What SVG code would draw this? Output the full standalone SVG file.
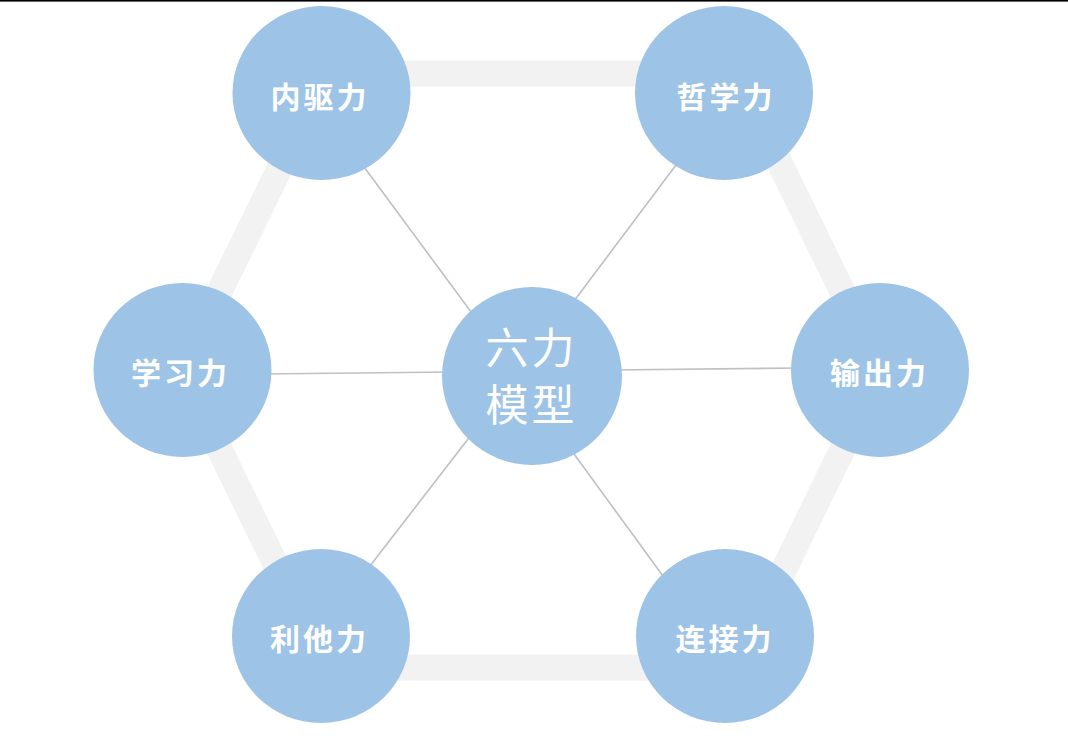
<svg xmlns="http://www.w3.org/2000/svg" width="1068" height="736" viewBox="0 0 1068 736">
  <style>
    .node { fill: #9dc3e6; }
    .lbl { fill: #ffffff; font-family: "Noto Sans CJK SC", "Noto Sans", sans-serif; font-weight: bold; font-size: 30px; letter-spacing: 3px; text-anchor: middle; }
    .clbl { fill: #ffffff; font-family: "Noto Sans CJK SC", "Noto Sans", sans-serif; font-weight: normal; font-size: 43px; letter-spacing: 3px; text-anchor: middle; }
    .spoke { stroke: #c0c0c0; stroke-width: 1.6; fill: none; }
    .ring { stroke: #f2f2f2; stroke-width: 26; fill: none; }
  </style>
  <rect x="0" y="0" width="1068" height="736" fill="#ffffff"/>
  <rect x="0" y="0" width="1068" height="1.6" fill="#000000"/>
  <g id="connectors">
    <polygon class="ring" points="326,73.5 736,73.5 881,370.5 736,667.5 326,667.5 181,370.5"/>
    <line class="spoke" x1="356" y1="156" x2="477" y2="320"/>
    <line class="spoke" x1="685" y1="153" x2="568" y2="309"/>
    <line class="spoke" x1="475" y1="430" x2="363" y2="575"/>
    <line class="spoke" x1="566" y1="443" x2="671" y2="587"/>
    <line class="spoke" x1="260" y1="374" x2="452" y2="372"/>
    <line class="spoke" x1="610" y1="370" x2="801" y2="368"/>
  </g>
  <g id="node-center">
    <ellipse class="node" cx="532" cy="376" rx="90" ry="89"/>
    <text class="clbl" x="531.5" y="364">六力</text>
    <text class="clbl" x="531.5" y="421">模型</text>
  </g>
  <g id="node-neiqu">
    <ellipse class="node" cx="321.5" cy="93" rx="89" ry="87"/>
    <text class="lbl" x="320" y="108">内驱力</text>
  </g>
  <g id="node-zhexue">
    <ellipse class="node" cx="724" cy="93" rx="89" ry="87"/>
    <text class="lbl" x="726" y="108">哲学力</text>
  </g>
  <g id="node-xuexi">
    <ellipse class="node" cx="182.5" cy="370" rx="89" ry="87"/>
    <text class="lbl" x="180.5" y="383.5">学习力</text>
  </g>
  <g id="node-shuchu">
    <ellipse class="node" cx="880" cy="370" rx="89" ry="87"/>
    <text class="lbl" x="879.5" y="383.5">输出力</text>
  </g>
  <g id="node-lita">
    <ellipse class="node" cx="321" cy="636" rx="89" ry="87"/>
    <text class="lbl" x="319.5" y="649.5">利他力</text>
  </g>
  <g id="node-lianjie">
    <ellipse class="node" cx="725" cy="636" rx="89" ry="87"/>
    <text class="lbl" x="725" y="649.5">连接力</text>
  </g>
</svg>
